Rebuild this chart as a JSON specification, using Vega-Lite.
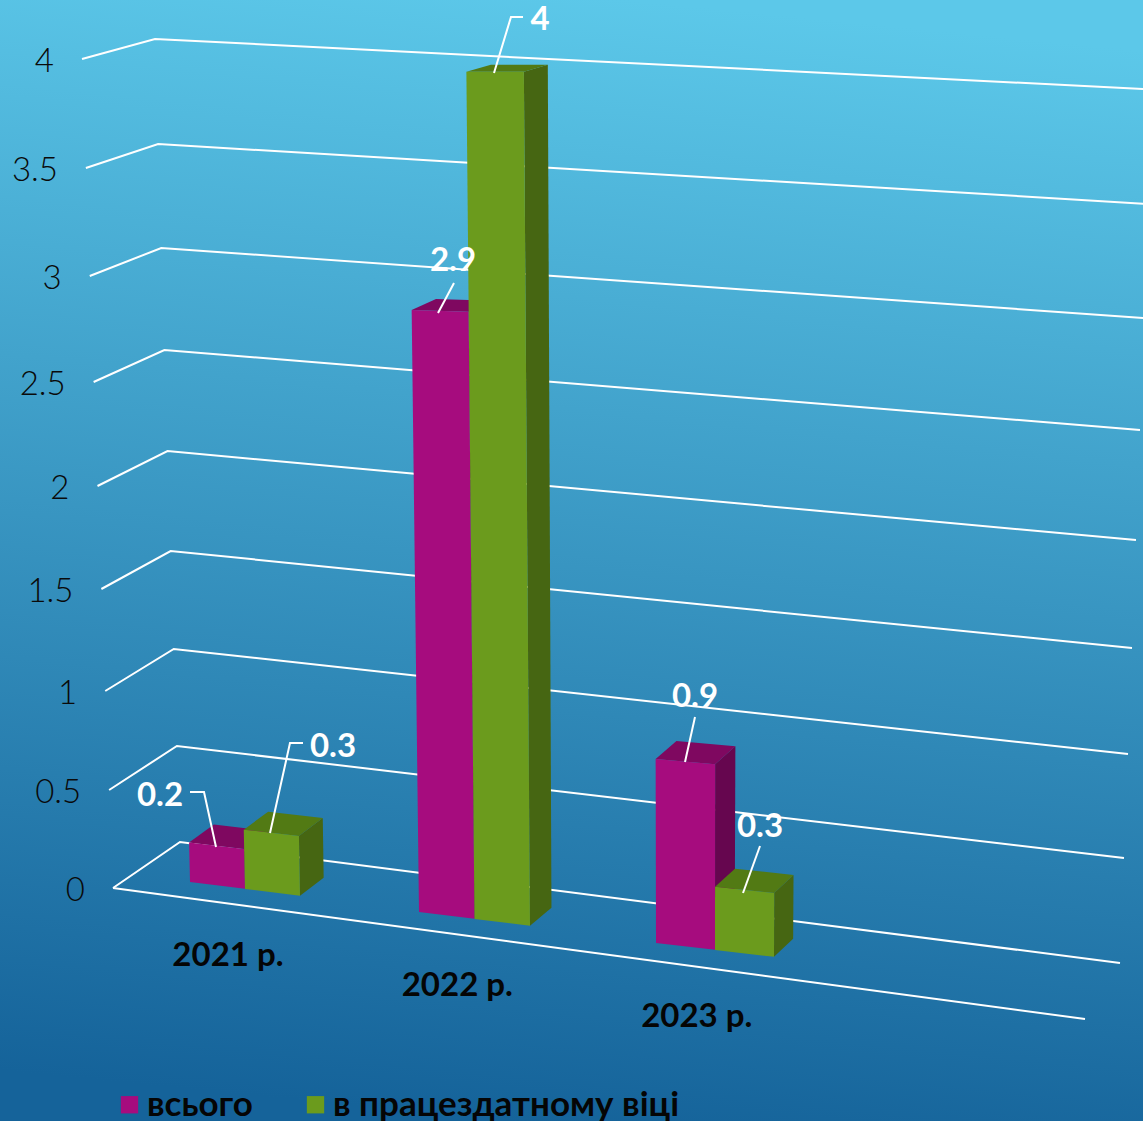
{
"$schema":"https://vega.github.io/schema/vega-lite/v6.json",
"width":1143,"height":1121,"padding":0,
"autosize":{"type":"fit","contains":"padding"},
"background":"#2a86b6",
"view":{"stroke":null,"fill":{"gradient":"linear","x1":0.55,"y1":0,"x2":0.45,"y2":1,"stops":[{"offset":0,"color":"#5CC8E9"},{"offset":1,"color":"#15639A"}]}},
"datasets":{
"bars":[
{"year":"2021 р.","series":"всього","value":0.2},
{"year":"2021 р.","series":"в працездатному віці","value":0.3},
{"year":"2022 р.","series":"всього","value":2.9},
{"year":"2022 р.","series":"в працездатному віці","value":4},
{"year":"2023 р.","series":"всього","value":0.9},
{"year":"2023 р.","series":"в працездатному віці","value":0.3}
],
"grid":[{"tick":0},{"tick":0.5},{"tick":1},{"tick":1.5},{"tick":2},{"tick":2.5},{"tick":3},{"tick":3.5},{"tick":4}]
},
"encoding":{
"x":{"type":"quantitative","scale":{"domain":[0,1143],"nice":false,"zero":false},"axis":null},
"y":{"type":"quantitative","scale":{"domain":[1121,0],"nice":false,"zero":false},"axis":null}
},
"layer":[
{"data":{"name":"grid"},
"transform":[
{"calculate":"datum.tick*2","as":"n"},
{"calculate":"[888,790,691,589,486,382,276,168,59][datum.n]","as":"ay"},
{"calculate":"113-7.75*datum.tick","as":"ax"},
{"calculate":"[842,746,649,551,451,350,248,144,39][datum.n]","as":"by"},
{"calculate":"180-6.25*datum.tick","as":"bx"},
{"calculate":"[963,858,754,648,540,430,318,204,89.5][datum.n]","as":"cy"},
{"calculate":"1120+8*datum.tick","as":"cx"}
],
"layer":[
{"transform":[{"calculate":"[0,1,2]","as":"k"},{"flatten":["k"]},{"calculate":"[datum.ax,datum.bx,datum.cx][datum.k]","as":"px"},{"calculate":"[datum.ay,datum.by,datum.cy][datum.k]","as":"py"}],
"mark":{"type":"line","stroke":"#ffffff","strokeWidth":2,"clip":true},
"encoding":{"x":{"field":"px"},"y":{"field":"py"},"detail":{"field":"tick"},"order":{"field":"k"}}},
{"transform":[{"filter":"datum.tick==0"},{"calculate":"[0,1]","as":"k"},{"flatten":["k"]},{"calculate":"[113,1085][datum.k]","as":"px"},{"calculate":"[888,1019][datum.k]","as":"py"}],
"mark":{"type":"line","stroke":"#ffffff","strokeWidth":2},
"encoding":{"x":{"field":"px"},"y":{"field":"py"},"order":{"field":"k"}}},
{"transform":[{"calculate":"datum.ax-28","as":"lx"},{"calculate":"datum.ay+3","as":"ly"}],
"mark":{"type":"text","align":"right","baseline":"middle","font":"Lato","fontSize":33,"fontWeight":300,"color":"#0a0a0a"},
"encoding":{"x":{"field":"lx"},"y":{"field":"ly"},"text":{"field":"tick","type":"quantitative"}}}
]},
{"data":{"name":"bars"},
"transform":[
{"calculate":"{'2021 р.':[190,882,55,0],'2022 р.':[419,912,55.5,0],'2023 р.':[656,943,59,4]}[datum.year]","as":"b"},
{"calculate":"datum.series=='всього'?0:1","as":"s"},
{"calculate":"datum.year+datum.series","as":"id"},
{"calculate":"datum.b[0]+datum.s*datum.b[2]","as":"xbl"},
{"calculate":"datum.xbl+datum.b[2]","as":"xbr"},
{"calculate":"datum.b[1]+datum.s*7","as":"ybl"},
{"calculate":"datum.ybl+6.8","as":"ybr"},
{"calculate":"196.6*datum.value+3.8*datum.value*datum.value+datum.b[3]","as":"h"},
{"calculate":"datum.xbl+(datum.xbl-700)*0.009*datum.value","as":"xtl"},
{"calculate":"datum.xbr+(datum.xbr-700)*0.009*datum.value","as":"xtr"},
{"calculate":"datum.ybl-datum.h","as":"ytl"},
{"calculate":"datum.ytl+6.8-1.7*datum.value","as":"ytr"},
{"calculate":"-18+3.5*max(datum.value-0.9,0)","as":"dyt"},
{"calculate":"0.6*datum.value+26.5-0.0095*datum.xtr","as":"dxr"},
{"calculate":"0.6*datum.value+26.5-0.0095*datum.xtl","as":"dxl"}
],
"layer":[
{"transform":[{"calculate":"[0,1,2,3]","as":"k"},{"flatten":["k"]},
{"calculate":"[datum.xbr,datum.xtr,datum.xtr+datum.dxr,datum.xbr+26.5-0.0095*datum.xbr][datum.k]","as":"px"},
{"calculate":"[datum.ybr,datum.ytr,datum.ytr+datum.dyt,datum.ybr-18][datum.k]","as":"py"}],
"mark":{"type":"line","filled":true},
"encoding":{"x":{"field":"px"},"y":{"field":"py"},"detail":{"field":"id"},"order":{"field":"k"},
"fill":{"condition":{"test":"datum.s==0","value":"#66064F"},"value":"#466612"}}},
{"transform":[{"calculate":"[0,1,2,3]","as":"k"},{"flatten":["k"]},
{"calculate":"[datum.xtl,datum.xtr,datum.xtr+datum.dxr,datum.xtl+datum.dxl][datum.k]","as":"px"},
{"calculate":"[datum.ytl,datum.ytr,datum.ytr+datum.dyt,datum.ytl+datum.dyt][datum.k]","as":"py"}],
"mark":{"type":"line","filled":true},
"encoding":{"x":{"field":"px"},"y":{"field":"py"},"detail":{"field":"id"},"order":{"field":"k"},
"fill":{"condition":{"test":"datum.s==0","value":"#7F0860"},"value":"#527A14"}}},
{"transform":[{"calculate":"[0,1,2,3]","as":"k"},{"flatten":["k"]},
{"calculate":"[datum.xbl,datum.xbr,datum.xtr,datum.xtl][datum.k]","as":"px"},
{"calculate":"[datum.ybl,datum.ybr,datum.ytr,datum.ytl][datum.k]","as":"py"}],
"mark":{"type":"line","filled":true},
"encoding":{"x":{"field":"px"},"y":{"field":"py"},"detail":{"field":"id"},"order":{"field":"k"},
"fill":{"field":"series","type":"nominal","scale":{"domain":["всього","в працездатному віці"],"range":["#A60C7E","#6B9B1D"]},
"legend":{"title":null,"orient":"none","legendX":112,"legendY":1087,"direction":"horizontal","columns":2,"gridAlign":"each","columnPadding":45,"symbolType":"square","symbolSize":300,"symbolStrokeWidth":0,"labelFont":"Lato","labelFontSize":35,"labelFontWeight":"bold","labelColor":"#050505","labelOffset":0,"labelLimit":500}}}},
{"transform":[{"calculate":"{'2021 р.всього':[[216,847,0],[204,792,1],[190,792,2]],'2021 р.в працездатному віці':[[270,833,0],[290,743,1],[303,743,2]],'2022 р.всього':[[438,313,0],[454,283,1]],'2022 р.в працездатному віці':[[494,73,0],[511,17,1],[523,17,2]],'2023 р.всього':[[685,762,0],[695,717,1]],'2023 р.в працездатному віці':[[743,893,0],[760,846,1]]}[datum.id]","as":"pts"},{"flatten":["pts"]},
{"calculate":"datum.pts[0]","as":"px"},{"calculate":"datum.pts[1]","as":"py"},{"calculate":"datum.pts[2]","as":"i"}],
"mark":{"type":"line","stroke":"#ffffff","strokeWidth":2},
"encoding":{"x":{"field":"px"},"y":{"field":"py"},"detail":{"field":"id"},"order":{"field":"i"}}},
{"transform":[{"calculate":"{'2021 р.всього':[160,796],'2021 р.в працездатному віці':[333,747],'2022 р.всього':[453,261],'2022 р.в працездатному віці':[540,20],'2023 р.всього':[695,697],'2023 р.в працездатному віці':[760,827]}[datum.id]","as":"p"},
{"calculate":"datum.p[0]","as":"px"},{"calculate":"datum.p[1]","as":"py"}],
"mark":{"type":"text","align":"center","baseline":"middle","font":"Lato","fontSize":33,"fontWeight":"bold","color":"#ffffff"},
"encoding":{"x":{"field":"px"},"y":{"field":"py"},"text":{"field":"value","type":"quantitative"}}},
{"transform":[{"filter":"datum.s==0"},{"calculate":"datum.xbl+datum.b[2]*0.69","as":"px"},{"calculate":"datum.ybl+74","as":"py"}],
"mark":{"type":"text","align":"center","baseline":"middle","font":"Lato","fontSize":33,"fontWeight":"bold","color":"#050505"},
"encoding":{"x":{"field":"px"},"y":{"field":"py"},"text":{"field":"year","type":"nominal"}}}
]}
],
"resolve":{"scale":{"x":"shared","y":"shared"}}
}
